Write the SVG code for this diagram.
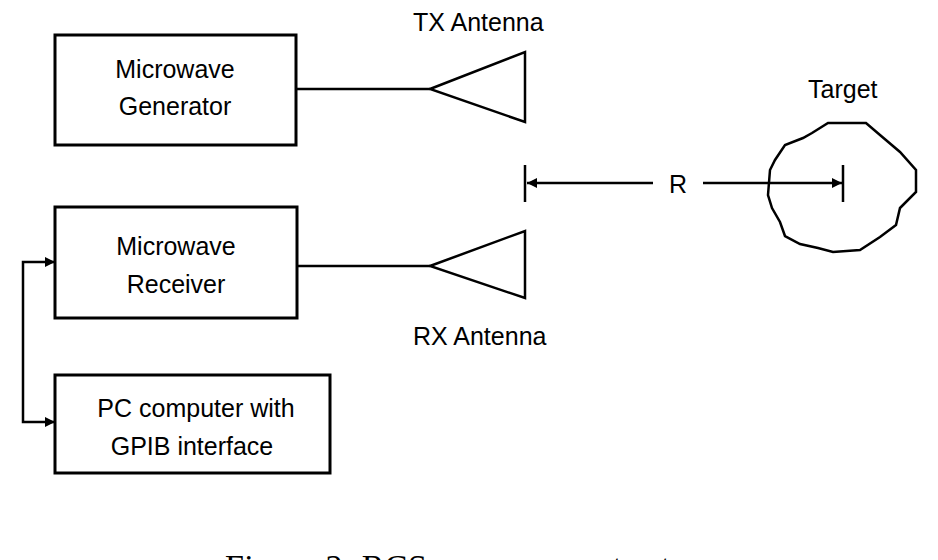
<svg xmlns="http://www.w3.org/2000/svg" width="938" height="560" viewBox="0 0 938 560">
<style>
.b{fill:none;stroke:#000;stroke-width:3}
.l{fill:none;stroke:#000;stroke-width:2.5}
text{font-family:"Liberation Sans",Arial,sans-serif;font-size:25px;fill:#000}
.c{text-anchor:middle}
</style>
<defs>
<marker id="a" viewBox="0 0 10 10" refX="10" refY="5" markerWidth="4" markerHeight="4" orient="auto-start-reverse"><path d="M0,0L10,5L0,10z" fill="#000"/></marker>
</defs>
<rect width="938" height="560" fill="#fff"/>
<g id="gen"><rect class="b" x="55" y="35" width="241" height="110"/><text class="c" x="175" y="78">Microwave</text><text class="c" x="175" y="115">Generator</text></g>
<g id="rec"><rect class="b" x="55" y="207" width="242" height="111"/><text class="c" x="176" y="255">Microwave</text><text class="c" x="176" y="293">Receiver</text></g>
<g id="pc"><rect class="b" x="55" y="375" width="275" height="98"/><text class="c" x="196" y="417">PC computer with</text><text class="c" x="192" y="455">GPIB interface</text></g>
<g id="tx"><path class="l" d="M430,89L525,52V122Z"/><text x="413" y="31">TX Antenna</text></g>
<g id="rx"><path class="l" d="M430,266L525,231V298Z"/><text x="413" y="345">RX Antenna</text></g>
<g id="target"><path class="l" d="M828,123L866,123L880,135L900,152L916,170L916,192L900,208L896,225L880,237L860,250L833,252L818,248L800,244L785,236L780,222L772,208L768,195L770,170L775,160L785,145L803,138L812,133Z"/><text x="808" y="98">Target</text></g>
<g id="connectors">
<path class="l" d="M296,89H430M297,266H430"/>
<path class="l" d="M55,262H23V422H55" marker-start="url(#a)" marker-end="url(#a)"/>
<path class="l" d="M525,165V202M843,165V202"/>
<path class="l" d="M653,183H527" marker-end="url(#a)"/>
<path class="l" d="M703,183H842" marker-end="url(#a)"/>
<text class="c" x="678" y="193">R</text>
</g>
<text x="225" y="578" style="font-family:'Liberation Serif',serif;font-size:34px" textLength="480">Figure 2: RCS measurement setup</text>
</svg>
